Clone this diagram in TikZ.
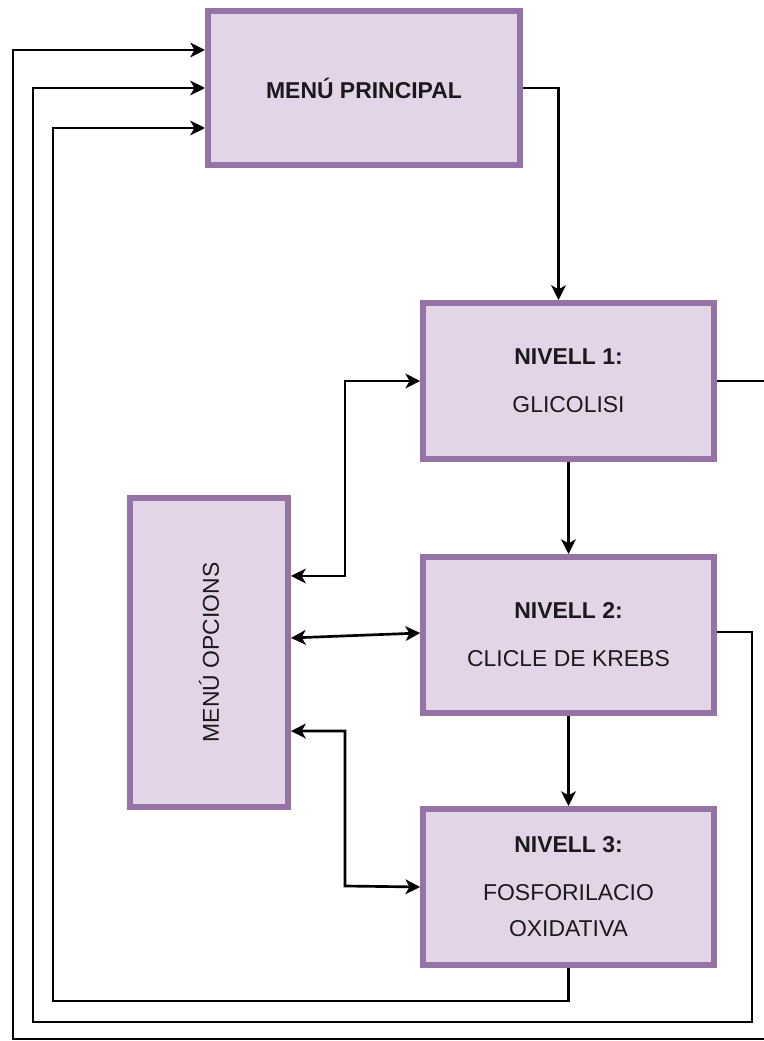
\documentclass[tikz,border=0pt]{standalone}
\usepackage{fontspec}
\setmainfont{Liberation Sans}
\usetikzlibrary{arrows.meta}
\definecolor{boxfill}{HTML}{E1D5E7}
\definecolor{boxline}{HTML}{9673A6}
\definecolor{txt}{HTML}{1A1A1A}
\begin{document}
\begin{tikzpicture}[x=0.75pt,y=-0.75pt,
    box/.style={draw=boxline,fill=boxfill,line width=4.5pt,align=center,text=txt,
        font=\fontsize{17.2}{21}\selectfont},
    arr/.style={line width=2pt,-{Stealth[length=11pt,width=11pt,inset=3pt]}},
    dbl/.style={line width=2pt,{Stealth[length=11pt,width=11pt,inset=3pt]}-{Stealth[length=11pt,width=11pt,inset=3pt]}}]
            \useasboundingbox (0,0) rectangle (763,1041);
%
            % boxes
            \node[box,minimum width=234pt,minimum height=115.5pt] (mp) at (364,88) {\textbf{MENÚ PRINCIPAL}};
            \node[box,minimum width=218pt,minimum height=117pt] (n1) at (568.5,381) {\textbf{NIVELL 1:}\\[15pt]GLICOLISI};
            \node[box,minimum width=218pt,minimum height=117pt] (n2) at (568.5,635) {\textbf{NIVELL 2:}\\[15pt]CLICLE DE KREBS};
            \node[box,minimum width=218pt,minimum height=117pt] (n3) at (568.5,887) {\textbf{NIVELL 3:}\\[15pt]FOSFORILACIO\\[6pt]OXIDATIVA};
            \node[box,minimum width=118.5pt,minimum height=231.75pt] (opc) at (209,652.5) {\rotatebox{90}{MENÚ OPCIONS}};
%
            % levels
            \draw[arr] (mp.east) -| ([xshift=-7.5pt]n1.north);
            \draw[arr] (n1.south) -- (n2.north);
            \draw[arr] (n2.south) -- (n3.north);
%
            % options
            \draw[dbl] ([yshift=57.4pt]opc.east) -| (345,381) -- (n1.west);
            \draw[dbl] ([yshift=10.9pt]opc.east) -- ([yshift=1.5pt]n2.west);
            \draw[dbl] ([yshift=-58.9pt]opc.east) -| (345,886) -- (n3.west);
%
            % back to menu
            \draw[arr] (n3.south) |- (53,1001) |- ([yshift=-30pt]mp.west);
            \draw[arr] ([yshift=2.25pt]n2.east) -| (752,1022) -| (33,88) -- (mp.west);
            \draw[arr] (n1.east) -| (775,1039) -| (13,50) -- ([yshift=28.5pt]mp.west);
        \end{tikzpicture}
\end{document}
